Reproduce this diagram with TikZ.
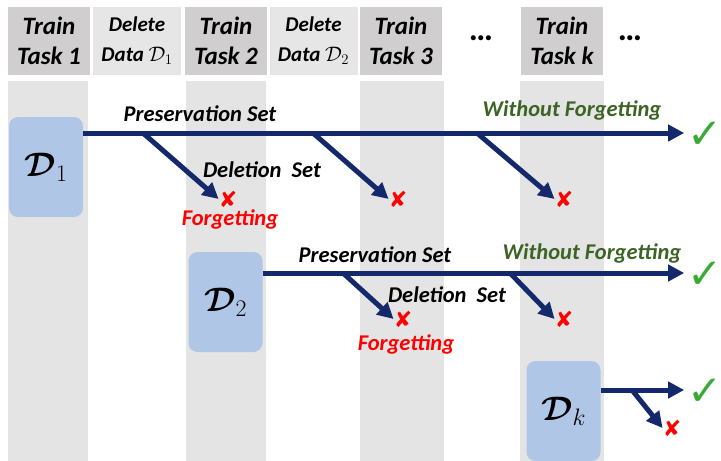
\documentclass[tikz,border=0pt]{standalone}
\usepackage{fix-cm}
\usepackage{bm}
\usepackage{fontspec}
\setmainfont{Carlito}
\newfontfamily\symfont{DejaVu Sans}
\usetikzlibrary{arrows.meta}
\definecolor{taskgray}{HTML}{D0CECE}
\definecolor{delgray}{HTML}{E7E6E6}
\definecolor{stripgray}{HTML}{E4E4E4}
\definecolor{boxblue}{HTML}{AFC6E6}
\definecolor{navy}{HTML}{13296B}
\definecolor{okgreen}{HTML}{3AAA35}
\definecolor{keepgreen}{HTML}{3B6425}
\begin{document}
\begin{tikzpicture}[x=1pt,y=-1pt,
    trainhead/.style={fill=taskgray,minimum width=82pt,minimum height=68pt,align=center,
      font=\fontsize{25}{30}\selectfont\bfseries\itshape},
    delhead/.style={fill=delgray,minimum width=88pt,minimum height=68pt,align=center,
      font=\fontsize{21}{30}\selectfont\bfseries\itshape},
    databox/.style={fill=boxblue,rounded corners=9pt,minimum width=74pt,minimum height=100pt,
      font=\fontsize{34}{34}\selectfont},
    flow/.style={draw=navy,line width=5pt,-{Triangle[length=16pt,width=16pt]}},
    okmark/.style={text=okgreen,font=\symfont\fontsize{42}{42}\selectfont,inner sep=0pt,inner xsep=3pt},
    nomark/.style={text=red,font=\symfont\fontsize{22}{22}\selectfont,inner sep=0pt},
    setlabel/.style={font=\fontsize{22.5}{22.5}\selectfont\bfseries\itshape},
    forget/.style={setlabel,text=red},
    keep/.style={setlabel,text=keepgreen}]
  \useasboundingbox (0,0) rectangle (721,461);
  % strips under the training steps
  \foreach \x/\w in {8/80,186/80,360/84,520/84}
    \fill[stripgray] (\x,81) rectangle ++(\w,380);

  % header row
  \node[trainhead] (t1) at (49,41) {Train\\Task 1};
  \node[delhead] (del1) at (137,41) {Delete\\Data $\mathcal{D}_1$};
  \node[trainhead] (t2) at (226,41) {Train\\Task 2};
  \node[delhead] (del2) at (313.5,41) {Delete\\Data $\mathcal{D}_2$};
  \node[trainhead] (t3) at (401,41) {Train\\Task 3};
  \node[font=\fontsize{34}{34}\selectfont\bfseries] (dots1) at (481,38) {\dots};
  \node[trainhead] (tk) at (562,41) {Train\\Task k};
  \node[font=\fontsize{34}{34}\selectfont\bfseries] (dots2) at (630,38) {\dots};

  % data sets
  \node[databox] (d1) at (46,167) {$\bm{\mathcal{D}}_1$};
  \node[databox] (d2) at (225.5,302) {$\bm{\mathcal{D}}_2$};
  \node[databox] (dk) at (563.5,411) {$\bm{\mathcal{D}}_k$};

  % marks
  \node[okmark] (ok1) at (705,135) {✓};
  \node[okmark] (ok2) at (705,275) {✓};
  \node[okmark] (ok3) at (705,392) {✓};
  \node[nomark] (x11) at (228,199) {✘};
  \node[nomark] (x12) at (398,199) {✘};
  \node[nomark] (x13) at (564,199) {✘};
  \node[nomark] (x21) at (403,319) {✘};
  \node[nomark] (x22) at (564,319) {✘};
  \node[nomark] (x31) at (672,428) {✘};

  % D1
  \coordinate (p11) at (143,133);
  \coordinate (p12) at (313,133);
  \coordinate (p13) at (477,133);
  \draw[flow] (d1.east |- p11) -- (ok1.west |- p11);
  \draw[flow] (p11) -- (x11.west);
  \draw[flow] (p12) -- (x12.west);
  \draw[flow] (p13) -- (x13.west);
  \node[setlabel] (pres1) at (200,114) {Preservation Set};
  \node[setlabel] (del1l) at (262,170) {Deletion\ \ Set};
  \node[forget] (fg1) at (230,219) {Forgetting};
  \node[keep] (wf1) at (572,110) {Without Forgetting};

  % D2
  \coordinate (p21) at (343,273);
  \coordinate (p22) at (510,273);
  \draw[flow] (d2.east |- p21) -- (ok2.west |- p21);
  \draw[flow] (p21) -- (x21.west);
  \draw[flow] (p22) -- (x22.west);
  \node[setlabel] (pres2) at (375,255) {Preservation Set};
  \node[setlabel] (del2l) at (447,295) {Deletion\ \ Set};
  \node[forget] (fg2) at (406,344) {Forgetting};
  \node[keep] (wf2) at (592,253) {Without Forgetting};

  % Dk
  \coordinate (p31) at (632,390);
  \draw[flow] (dk.east |- p31) -- (ok3.west |- p31);
  \draw[flow] (p31) -- (x31.west);
\end{tikzpicture}
\end{document}
